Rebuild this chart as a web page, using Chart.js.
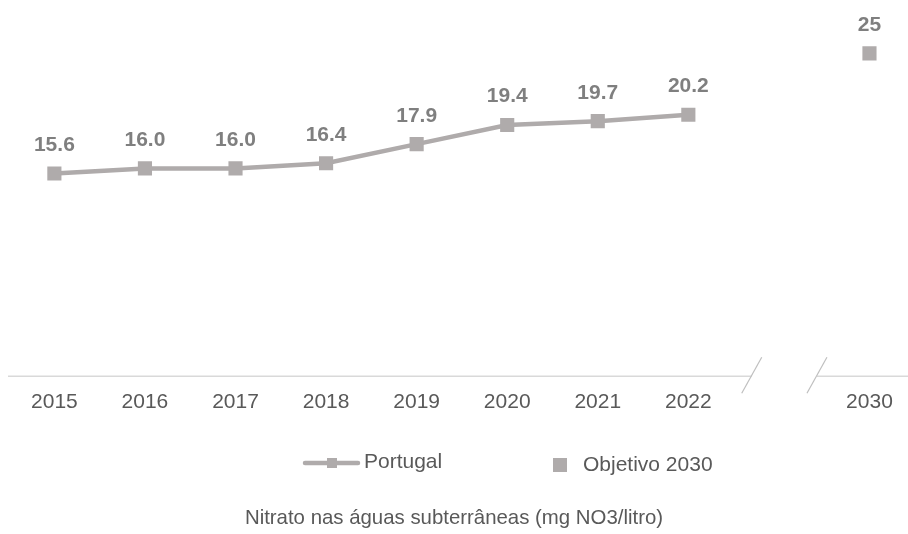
<!DOCTYPE html>
<html>
<head>
<meta charset="utf-8">
<script src="https://cdn.jsdelivr.net/npm/chart.js@4/dist/chart.umd.min.js"></script>
<style>
  html, body { margin: 0; padding: 0; background: #fff; overflow: hidden; }
  #wrap { width: 908px; height: 534px; }
</style>
</head>
<body>
<div id="wrap"><canvas id="chart"></canvas></div>
<script>
// Chart data
const categories = ['2015', '2016', '2017', '2018', '2019', '2020', '2021', '2022', '', '2030'];
const portugal = [15.6, 16.0, 16.0, 16.4, 17.9, 19.4, 19.7, 20.2, null, null];
const objetivo2030 = [null, null, null, null, null, null, null, null, null, 25];
const seriesNames = ['Portugal', 'Objetivo 2030'];
const chartTitle = 'Nitrato nas águas subterrâneas (mg NO3/litro)';

const GRAY = '#AFABAB';
const TEXT = '#595959';
const LABEL = '#7F7F7F';
const FONT = 'Arial, "Liberation Sans", sans-serif';

// turn the plain arrays into {x, y} points for the linear index scale
const toPoints = arr => arr.map((v, i) => ({ x: i, y: v }));

// value labels above each point
const valueLabels = {
  id: 'valueLabels',
  afterDatasetsDraw(chart) {
    const ctx = chart.ctx;
    ctx.save();
    ctx.font = 'bold 21px ' + FONT;
    ctx.fillStyle = LABEL;
    ctx.textAlign = 'center';
    ctx.textBaseline = 'alphabetic';
    chart.data.datasets.forEach((ds, di) => {
      const meta = chart.getDatasetMeta(di);
      meta.data.forEach((pt, i) => {
        const v = ds.data[i].y;
        if (v == null) return;
        const txt = ds.decimals ? v.toFixed(ds.decimals) : String(v);
        ctx.fillText(txt, pt.x, pt.y - 22.5);
      });
    });
    ctx.restore();
  }
};

// x axis line with a break before 2030, plus the custom legend
const axisAndLegend = {
  id: 'axisAndLegend',
  afterDraw(chart) {
    const ctx = chart.ctx;
    const x = chart.scales.x;
    const y0 = chart.chartArea.bottom + 1;
    const gapL = x.getPixelForValue(7.7);
    const gapR = x.getPixelForValue(8.42);
    ctx.save();
    ctx.strokeStyle = '#D9D9D9';
    ctx.lineWidth = 1.5;
    ctx.beginPath();
    ctx.moveTo(8, y0);
    ctx.lineTo(gapL, y0);
    ctx.moveTo(gapR, y0);
    ctx.lineTo(chart.width, y0);
    ctx.stroke();

    // break marks
    ctx.strokeStyle = '#BFBFBF';
    ctx.lineWidth = 1.2;
    [gapL, gapR].forEach(cx => {
      ctx.beginPath();
      ctx.moveTo(cx - 10, y0 + 17);
      ctx.lineTo(cx + 10, y0 - 19);
      ctx.stroke();
    });

    // legend
    const ly = 463;
    ctx.lineCap = 'round';
    ctx.strokeStyle = GRAY;
    ctx.lineWidth = 4.5;
    ctx.beginPath();
    ctx.moveTo(305, ly);
    ctx.lineTo(358, ly);
    ctx.stroke();
    ctx.fillStyle = GRAY;
    ctx.fillRect(327, ly - 5, 10, 10);
    ctx.fillRect(553, ly + 2 - 7, 14, 14);

    ctx.font = '21px ' + FONT;
    ctx.fillStyle = TEXT;
    ctx.textAlign = 'left';
    ctx.textBaseline = 'middle';
    ctx.fillText(seriesNames[0], 364, ly - 1);
    ctx.fillText(seriesNames[1], 583, ly + 2);
    ctx.restore();
  }
};

const ctx = document.getElementById('chart').getContext('2d');
new Chart(ctx, {
  type: 'line',
  data: {
    datasets: [{
      label: seriesNames[0],
      data: toPoints(portugal),
      decimals: 1,
      borderColor: GRAY,
      backgroundColor: GRAY,
      borderWidth: 4.5,
      pointStyle: 'rect',
      pointRadius: 10,
      pointHoverRadius: 10,
      pointBorderWidth: 0,
      spanGaps: false
    }, {
      label: seriesNames[1],
      data: toPoints(objetivo2030),
      decimals: 0,
      showLine: false,
      borderColor: GRAY,
      backgroundColor: GRAY,
      pointStyle: 'rect',
      pointRadius: 10,
      pointHoverRadius: 10,
      pointBorderWidth: 0
    }]
  },
  options: {
    responsive: true,
    maintainAspectRatio: false,
    animation: false,
    layout: { padding: 0 },
    plugins: {
      legend: { display: false },
      tooltip: { enabled: false },
      title: {
        display: true,
        position: 'bottom',
        text: chartTitle,
        color: TEXT,
        font: { family: FONT, size: 20.4, weight: 'normal' },
        padding: { top: 78, bottom: 3 }
      }
    },
    scales: {
      x: {
        type: 'linear',
        min: -0.49,
        max: 9.315,
        afterBuildTicks: (axis) => {
          axis.ticks = categories.map((c, i) => ({ value: i }));
        },
        ticks: {
          autoSkip: false,
          maxRotation: 0,
          padding: 14,
          color: TEXT,
          font: { family: FONT, size: 21 },
          callback: (value) => categories[value]
        },
        grid: { display: false, drawTicks: false },
        border: { display: false }
      },
      y: {
        display: false,
        min: -0.2,
        max: 28.4
      }
    }
  },
  plugins: [valueLabels, axisAndLegend]
});
</script>
</body>
</html>
